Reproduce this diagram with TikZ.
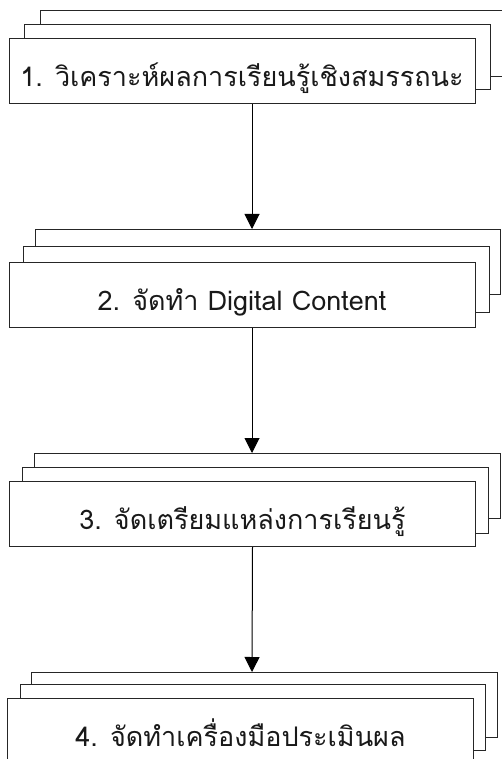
\documentclass[tikz,border=0pt]{standalone}
\usepackage{fontspec}
\newfontfamily\thaifont[Script=Thai]{Loma}
\usetikzlibrary{arrows.meta}
\tikzset{
  boxline/.style={draw=black!85, line width=1pt, fill=white},
  frontbox/.style={boxline, minimum width=466pt, minimum height=65pt,
    inner xsep=0pt, inner ysep=0pt, text height=48pt, text depth=17pt,
    font=\thaifont\fontsize{27}{29}\selectfont, text=black!90},
  flow/.style={draw=black, line width=1pt, -{Triangle[width=15pt,length=15pt]}}
}
\begin{document}
\begin{tikzpicture}[x=1pt,y=-1pt]
\useasboundingbox (0,0) rectangle (501,759);
% box 1
\draw[boxline] (40,11) rectangle (506,77);
\draw[boxline] (24,25) rectangle (490,90);
\node[frontbox] (b1) at (242,71.5) {1. วิเคราะห์ผลการเรียนรู้เชิงสมรรถนะ};
% box 2
\draw[boxline] (35,229) rectangle (500,294);
\draw[boxline] (23,246) rectangle (489,312);
\node[frontbox] (b2) at (242,294.5) {2. จัดทำ Digital Content};
% box 3
\draw[boxline] (34,453) rectangle (500,518);
\draw[boxline] (22,467) rectangle (488,533);
\node[frontbox] (b3) at (242.5,514) {3. จัดเตรียมแหล่งการเรียนรู้};
% box 4
\draw[boxline] (31,672) rectangle (497,737);
\draw[boxline] (20,684) rectangle (485,750);
\node[frontbox] (b4) at (240.5,730.5) {4. จัดทำเครื่องมือประเมินผล};
% arrow targets
\coordinate (t2) at (252,229);
\coordinate (t3) at (252,453);
\coordinate (t4) at (252,672);
\draw[flow] ([xshift=10pt]b1.south) -- (t2);
\draw[flow] ([xshift=10pt]b2.south) -- (t3);
\draw[flow] ([xshift=10pt]b3.south) -- (t4);
\end{tikzpicture}
\end{document}
